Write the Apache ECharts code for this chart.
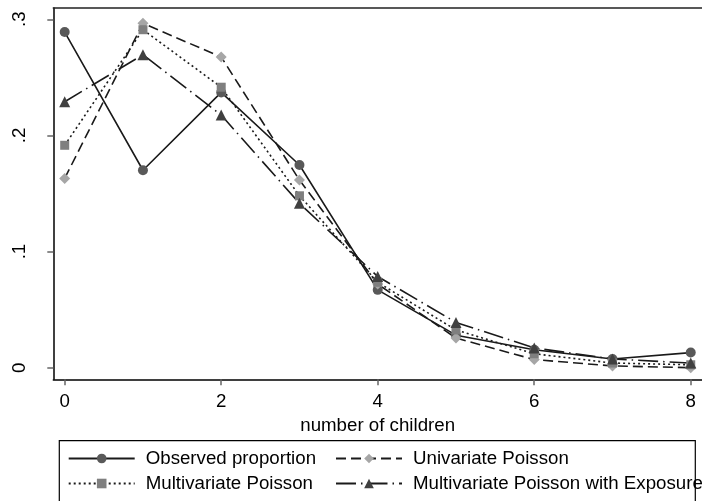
<!DOCTYPE html>
<html><head><meta charset="utf-8">
<script src="https://cdn.jsdelivr.net/npm/echarts@6/dist/echarts.min.js"></script>
<style>html,body{margin:0;padding:0;background:#fff}#c{width:702px;height:501px}</style>
</head><body><div id="c"></div>
<script>
const children = [0, 1, 2, 3, 4, 5, 6, 7, 8];
const observed = [0.289, 0.170, 0.237, 0.1745, 0.067, 0.028, 0.0155, 0.0075, 0.013];
const univariate = [0.163, 0.2965, 0.2675, 0.1615, 0.072, 0.0255, 0.007, 0.0015, 0.0];
const multivariate = [0.1915, 0.291, 0.2415, 0.148, 0.0735, 0.0325, 0.012, 0.004, 0.0025];
const exposure = [0.229, 0.2695, 0.2175, 0.1415, 0.0785, 0.039, 0.017, 0.0075, 0.004];
const xTicks = [0, 2, 4, 6, 8];
const yTicks = [0, 0.1, 0.2, 0.3];
const yTickLabels = ['0', '.1', '.2', '.3'];
const names = ['Observed proportion', 'Univariate Poisson', 'Multivariate Poisson', 'Multivariate Poisson with Exposure'];

const FONT = 'Liberation Sans';
const FS = 18.7;
const pairs = arr => children.map((c, i) => [c, arr[i]]);

function mkSeries(name, arr, symbol, size, color, dash) {
  return {
    name, type: 'line', data: pairs(arr), symbol, symbolSize: size,
    itemStyle: { color: color, borderWidth: 0 },
    lineStyle: { color: '#1a1a1a', width: 1.6, type: dash },
    emphasis: { disabled: true }, animation: false
  };
}
function mkLegend(name, left, top) {
  return {
    data: [name], left, top, padding: 0, itemWidth: 66, itemHeight: 12, selectedMode: false,
    textStyle: { fontFamily: FONT, fontSize: FS, color: '#000', padding: [0, 0, 0, 6] }
  };
}

const chart = echarts.init(document.getElementById('c'), null, { renderer: 'canvas' });
chart.setOption({
  animation: false,
  backgroundColor: '#fff',
  grid: { left: 53.3, top: 8, right: 0, bottom: 121.7, containLabel: false },
  xAxis: [{
    type: 'value', min: -0.1457, max: 8.144,
    name: 'number of children', nameLocation: 'middle', nameGap: 28,
    nameTextStyle: { fontFamily: FONT, fontSize: FS, color: '#000' },
    axisLine: { show: true, onZero: false, lineStyle: { color: '#000', width: 1.5 } },
    axisTick: { show: true, length: 6, customValues: xTicks, lineStyle: { color: '#666', width: 1.5 } },
    axisLabel: { customValues: xTicks, margin: 13, fontFamily: FONT, fontSize: FS, color: '#000' },
    splitLine: { show: false }
  }, {
    type: 'value', position: 'top', min: -0.1457, max: 8.144,
    axisLine: { show: true, onZero: false, lineStyle: { color: '#222', width: 1.5 } },
    axisTick: { show: false }, axisLabel: { show: false }, splitLine: { show: false }
  }],
  yAxis: {
    type: 'value', min: -0.01, max: 0.3097,
    axisLine: { show: true, onZero: false, lineStyle: { color: '#000', width: 1.5 } },
    axisTick: { show: true, length: 6, customValues: yTicks, lineStyle: { color: '#666', width: 1.5 } },
    axisLabel: {
      customValues: yTicks, rotate: 90, margin: 24, fontFamily: FONT, fontSize: FS, color: '#000',
      formatter: v => { const i = yTicks.findIndex(t => Math.abs(t - v) < 1e-9); return i >= 0 ? yTickLabels[i] : ''; }
    },
    splitLine: { show: false }
  },
  legend: [
    mkLegend(names[0], 67.7, 449),
    mkLegend(names[1], 335, 449),
    mkLegend(names[2], 67.7, 474),
    mkLegend(names[3], 335, 474)
  ],
  graphic: [{
    type: 'rect', shape: { x: 59.3, y: 440.7, width: 636, height: 80 },
    style: { fill: 'none', stroke: '#000', lineWidth: 1.2 }, z: -1
  }],
  series: [
    mkSeries(names[0], observed, 'circle', 10, '#595959', 'solid'),
    mkSeries(names[1], univariate, 'diamond', 11, '#a6a6a6', [10, 5]),
    mkSeries(names[2], multivariate, 'rect', 9, '#7f7f7f', [2, 3]),
    mkSeries(names[3], exposure, 'triangle', 11, '#404040', [20, 5, 1.5, 5])
  ]
});
</script></body></html>
